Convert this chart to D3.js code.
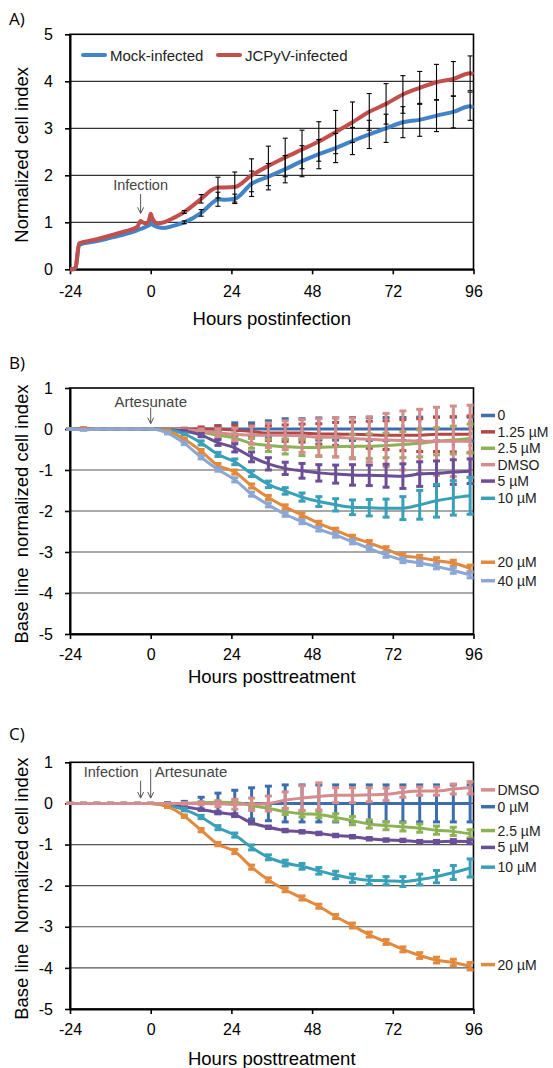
<!DOCTYPE html>
<html>
<head>
<meta charset="utf-8">
<script src="https://cdn.jsdelivr.net/npm/d3@7"></script>
<style>
  body { margin: 0; background: #fff; }
  svg { display: block; font-family: "Liberation Sans", Arial, sans-serif; }
</style>
</head>
<body>
<div id="chart"></div>
<script>
// ---------- data ----------
// Panel A: hours postinfection and normalized cell index
const hoursA  = [-24, -23, -22.3, -21.3, -20, -16, -12, -8, -4, -3, -2.5, -1, -0.3, 0, 0.5, 2, 4, 7, 10, 15, 19, 20, 22, 25, 30, 35, 40, 45, 50, 55, 60, 65, 70, 75, 80, 85, 90, 95, 96];
const mockA   = [0, 0, 0.05, 0.52, 0.55, 0.6, 0.67, 0.74, 0.83, 0.86, 0.87, 0.92, 0.95, 1.02, 0.95, 0.9, 0.88, 0.93, 1.0, 1.2, 1.45, 1.49, 1.48, 1.5, 1.82, 1.97, 2.13, 2.3, 2.45, 2.58, 2.73, 2.87, 3.0, 3.13, 3.18, 3.27, 3.35, 3.47, 3.44];
const jcpyvA  = [0, 0, 0.05, 0.55, 0.58, 0.64, 0.72, 0.8, 0.9, 1.03, 1.0, 0.98, 1.1, 1.18, 1.08, 0.98, 1.0, 1.1, 1.22, 1.5, 1.72, 1.74, 1.74, 1.75, 2.0, 2.2, 2.38, 2.55, 2.72, 2.92, 3.13, 3.35, 3.52, 3.72, 3.86, 3.98, 4.05, 4.17, 4.15];
const errHoursA = [10, 15, 20, 25, 30, 35, 40, 45, 50, 55, 60, 65, 70, 75, 80, 85, 90, 95];
const errMockA  = [0.03, 0.07, 0.15, 0.1, 0.27, 0.28, 0.29, 0.33, 0.31, 0.31, 0.29, 0.3, 0.3, 0.33, 0.35, 0.34, 0.34, 0.3];
const errJcpyvA = [0.03, 0.09, 0.22, 0.32, 0.35, 0.42, 0.41, 0.41, 0.42, 0.46, 0.43, 0.39, 0.43, 0.4, 0.35, 0.38, 0.37, 0.37];

// Panels B and C: hours posttreatment
const hoursBC = [-24, -20, -16, -12, -8, -4, 0, 5, 10, 15, 20, 25, 30, 35, 40, 45, 50, 55, 60, 65, 70, 75, 80, 85, 90, 95];

// Panel B (uninfected, artesunate)
const namesB = ["0", "1.25 µM", "2.5 µM", "DMSO", "5 µM", "10 µM", "20 µM", "40 µM"];
const b0     = [0, 0, 0, 0, 0, 0, 0, 0, 0, 0, 0, 0, 0, 0, 0, 0, 0, 0, 0, 0, 0, 0, 0, 0, 0, 0];
const eb0    = [0, 0, 0, 0, 0, 0, 0, 0, 0, 0.02, 0.08, 0.15, 0.15, 0.2, 0.25, 0.25, 0.27, 0.27, 0.28, 0.28, 0.28, 0.28, 0.29, 0.29, 0.29, 0.29];
const b125   = [0, 0.02, 0, 0, 0, 0, 0, 0, 0, 0, 0, -0.03, -0.06, -0.1, -0.1, -0.1, -0.12, -0.12, -0.13, -0.14, -0.15, -0.15, -0.15, -0.13, -0.13, -0.13];
const eb125  = [0, 0, 0, 0, 0, 0, 0, 0, 0.02, 0.05, 0.08, 0.12, 0.15, 0.18, 0.2, 0.22, 0.25, 0.28, 0.3, 0.33, 0.35, 0.38, 0.4, 0.42, 0.43, 0.45];
const b25    = [0, 0, 0, 0, 0, 0, 0, 0, -0.03, -0.08, -0.15, -0.22, -0.35, -0.4, -0.43, -0.45, -0.45, -0.43, -0.42, -0.42, -0.4, -0.38, -0.35, -0.3, -0.27, -0.23];
const eb25   = [0, 0, 0, 0, 0, 0, 0, 0, 0.02, 0.05, 0.08, 0.1, 0.12, 0.15, 0.18, 0.2, 0.22, 0.25, 0.28, 0.3, 0.3, 0.32, 0.33, 0.33, 0.34, 0.35];
const bDmso  = [0, -0.02, 0, 0, 0, 0, 0, 0, -0.02, -0.05, -0.1, -0.13, -0.15, -0.15, -0.15, -0.17, -0.2, -0.2, -0.23, -0.25, -0.27, -0.28, -0.3, -0.3, -0.3, -0.3];
const ebDmso = [0, 0, 0, 0, 0, 0, 0, 0, 0.02, 0.05, 0.1, 0.15, 0.22, 0.3, 0.35, 0.4, 0.45, 0.48, 0.5, 0.55, 0.65, 0.72, 0.78, 0.83, 0.86, 0.88];
const b5     = [0, 0, 0, 0, 0, 0, 0, -0.01, -0.05, -0.15, -0.33, -0.46, -0.68, -0.85, -0.96, -1.02, -1.07, -1.1, -1.12, -1.13, -1.14, -1.15, -1.1, -1.08, -1.05, -1.03];
const eb5    = [0, 0, 0, 0, 0, 0, 0, 0, 0.02, 0.04, 0.07, 0.1, 0.12, 0.15, 0.15, 0.18, 0.2, 0.22, 0.25, 0.25, 0.28, 0.3, 0.3, 0.3, 0.3, 0.3];
const b10    = [0, 0, 0, 0, 0, 0, 0, -0.02, -0.12, -0.34, -0.62, -0.8, -1.09, -1.35, -1.51, -1.66, -1.77, -1.85, -1.91, -1.92, -1.93, -1.93, -1.85, -1.75, -1.68, -1.63];
const eb10   = [0, 0, 0, 0, 0, 0, 0, 0, 0.02, 0.05, 0.05, 0.07, 0.07, 0.08, 0.08, 0.1, 0.12, 0.15, 0.18, 0.2, 0.22, 0.28, 0.35, 0.4, 0.42, 0.45];
const b20    = [0, 0, 0, 0, 0, 0, 0, -0.05, -0.25, -0.54, -0.89, -1.05, -1.39, -1.67, -1.9, -2.1, -2.3, -2.47, -2.64, -2.78, -2.93, -3.09, -3.14, -3.21, -3.27, -3.4];
const eb20   = [0, 0, 0, 0, 0, 0, 0, 0.02, 0.03, 0.04, 0.05, 0.05, 0.05, 0.05, 0.05, 0.05, 0.05, 0.05, 0.05, 0.06, 0.06, 0.06, 0.06, 0.07, 0.07, 0.08];
const b40    = [0, -0.02, 0, 0, 0, 0, 0, -0.1, -0.35, -0.69, -0.99, -1.24, -1.59, -1.85, -2.08, -2.26, -2.44, -2.59, -2.75, -2.91, -3.07, -3.2, -3.27, -3.35, -3.45, -3.56];
const eb40   = [0, 0, 0, 0, 0, 0, 0, 0.02, 0.03, 0.04, 0.04, 0.05, 0.05, 0.05, 0.05, 0.05, 0.05, 0.05, 0.05, 0.05, 0.06, 0.06, 0.06, 0.06, 0.07, 0.07];

// Panel C (JCPyV-infected, artesunate)
const namesC = ["DMSO", "0 µM", "2.5 µM", "5 µM", "10 µM", "20 µM"];
const cDmso  = [0, 0, 0, 0, 0, 0, 0, 0, 0, 0, -0.01, -0.02, -0.02, 0, 0.08, 0.13, 0.17, 0.2, 0.2, 0.21, 0.22, 0.27, 0.3, 0.3, 0.35, 0.38];
const ecDmso = [0, 0, 0, 0, 0, 0, 0, 0, 0.02, 0.03, 0.07, 0.12, 0.15, 0.18, 0.2, 0.3, 0.33, 0.18, 0.18, 0.17, 0.15, 0.12, 0.1, 0.1, 0.12, 0.15];
const c0     = [0, 0, 0, 0, 0, 0, 0, 0, 0, 0, 0, 0, 0, 0, 0, 0, 0, 0, 0, 0, 0, 0, 0, 0, 0, 0];
const ec0    = [0, 0, 0, 0, 0, 0, 0, 0.02, 0.05, 0.15, 0.25, 0.32, 0.38, 0.42, 0.45, 0.45, 0.45, 0.45, 0.45, 0.45, 0.45, 0.45, 0.45, 0.45, 0.45, 0.45];
const c25    = [0, 0, 0, 0, 0, 0, 0, 0, 0, 0.02, 0.03, 0.02, -0.05, -0.12, -0.2, -0.25, -0.27, -0.34, -0.42, -0.5, -0.54, -0.57, -0.6, -0.65, -0.68, -0.74];
const ec25   = [0, 0, 0, 0, 0, 0, 0, 0, 0, 0.02, 0.03, 0.05, 0.05, 0.06, 0.07, 0.08, 0.08, 0.09, 0.1, 0.1, 0.1, 0.1, 0.1, 0.1, 0.1, 0.1];
const c5     = [0, 0, 0, 0, 0, 0, 0, -0.02, -0.08, -0.15, -0.22, -0.28, -0.47, -0.58, -0.66, -0.69, -0.73, -0.78, -0.81, -0.86, -0.89, -0.9, -0.93, -0.93, -0.92, -0.93];
const ec5    = [0, 0, 0, 0, 0, 0, 0, 0.02, 0.02, 0.02, 0.03, 0.03, 0.03, 0.03, 0.03, 0.03, 0.03, 0.03, 0.03, 0.03, 0.03, 0.03, 0.03, 0.03, 0.04, 0.05];
const c10    = [0, 0, 0, 0, 0, 0, 0, -0.05, -0.15, -0.33, -0.59, -0.77, -1.07, -1.31, -1.45, -1.53, -1.64, -1.74, -1.82, -1.87, -1.88, -1.9, -1.85, -1.78, -1.68, -1.57];
const ec10   = [0, 0, 0, 0, 0, 0, 0, 0.02, 0.03, 0.04, 0.05, 0.05, 0.06, 0.06, 0.07, 0.07, 0.08, 0.09, 0.1, 0.1, 0.1, 0.12, 0.13, 0.15, 0.17, 0.22];
const c20    = [0, 0, 0, 0, 0, 0, 0, -0.08, -0.31, -0.65, -0.99, -1.17, -1.55, -1.86, -2.1, -2.3, -2.5, -2.75, -2.97, -3.19, -3.37, -3.55, -3.7, -3.81, -3.87, -3.96];
const ec20   = [0, 0, 0, 0, 0, 0, 0, 0.02, 0.03, 0.04, 0.04, 0.05, 0.05, 0.05, 0.05, 0.05, 0.05, 0.05, 0.06, 0.06, 0.06, 0.06, 0.07, 0.07, 0.08, 0.09];

const xTicks = [-24, 0, 24, 48, 72, 96];

// ---------- layout ----------
const W = 553, H = 1068;
const plotLeft = 70, plotRight = 473.5;

const svg = d3.select("#chart").append("svg")
  .attr("width", W).attr("height", H);

const x = d3.scaleLinear().domain([-24, 96]).range([plotLeft, plotRight]);
const plainNum = d => String(d); // hyphen minus like the original, not U+2212

function frame(o) {
  const y = d3.scaleLinear().domain(o.domain).range([o.bottom, o.top]);
  const g = svg.append("g");

  // gridlines
  g.append("g").selectAll("line")
    .data(o.yTicks.filter(t => t !== o.domain[0] && t !== o.domain[1]))
    .join("line")
      .attr("x1", plotLeft).attr("x2", plotRight)
      .attr("y1", d => y(d)).attr("y2", d => y(d))
      .attr("stroke", o.gridColor).attr("stroke-width", o.gridWidth);

  // box
  g.append("rect")
    .attr("x", plotLeft).attr("y", o.top)
    .attr("width", plotRight - plotLeft).attr("height", o.bottom - o.top)
    .attr("fill", "none").attr("stroke", "#000").attr("stroke-width", 1.6);

  const xa = g.append("g")
    .attr("transform", `translate(0,${o.bottom})`)
    .call(d3.axisBottom(x).tickValues(xTicks).tickSize(5).tickSizeOuter(0).tickPadding(o.xPad).tickFormat(plainNum));
  const ya = g.append("g")
    .attr("transform", `translate(${plotLeft},0)`)
    .call(d3.axisLeft(y).tickValues(o.yTicks).tickSize(5).tickSizeOuter(0).tickPadding(12).tickFormat(plainNum));
  [xa, ya].forEach(a => {
    a.select(".domain").attr("stroke", "#000").attr("stroke-width", 2);
    a.selectAll(".tick line").attr("stroke", "#000").attr("stroke-width", 1.6);
    a.selectAll(".tick text").attr("fill", "#000")
      .style("font-family", '"Liberation Sans", Arial, sans-serif').style("font-size", "16px");
  });

  // axis titles
  g.append("text")
    .attr("x", (plotLeft + plotRight) / 2).attr("y", o.xTitleY)
    .attr("text-anchor", "middle").attr("dominant-baseline", "central")
    .style("font-size", "18.5px").text(o.xTitle);
  g.append("text")
    .attr("transform", `translate(21,${(o.top + o.bottom) / 2 + 3}) rotate(-90)`)
    .attr("text-anchor", "middle").attr("dominant-baseline", "central")
    .style("font-size", "18.5px").style("white-space", "pre").text(o.yTitle);

  // panel label
  g.append("text")
    .attr("x", 9).attr("y", o.labelY)
    .attr("dominant-baseline", "central")
    .style("font-family", '"Open Sans", sans-serif').style("font-size", "17px")
    .text(o.label);

  return { g, y };
}

function arrow(g, px, y1, y2) {
  g.append("path")
    .attr("d", `M${px},${y1}V${y2}M${px - 3},${y2 - 6}L${px},${y2}L${px + 3},${y2 - 6}`)
    .attr("fill", "none").attr("stroke", "#555").attr("stroke-width", 1);
}

// ---------- Panel A ----------
{
  const { g, y } = frame({
    top: 34.3, bottom: 269.3, domain: [0, 5], yTicks: [0, 1, 2, 3, 4, 5],
    gridColor: "#000", gridWidth: 1, xPad: 11, xTitleY: 318,
    xTitle: "Hours postinfection", yTitle: "Normalized cell index",
    label: "A)", labelY: 18
  });

  const line = d3.line().x(d => x(d[0])).y(d => y(d[1])).curve(d3.curveMonotoneX);
  const seriesA = [
    { name: "Mock-infected", vals: mockA, err: errMockA, color: "#4384c9" },
    { name: "JCPyV-infected", vals: jcpyvA, err: errJcpyvA, color: "#c24f4c" }
  ];

  seriesA.forEach(s => {
    g.append("path")
      .datum(hoursA.map((h, i) => [h, s.vals[i]]))
      .attr("d", line)
      .attr("fill", "none").attr("stroke", s.color)
      .attr("stroke-width", 4).attr("stroke-linejoin", "round");
  });

  // error bars (black)
  seriesA.forEach(s => {
    const pts = errHoursA.map((h, i) => {
      const v = s.vals[hoursA.indexOf(h)];
      return { h, lo: v - s.err[i], hi: v + s.err[i] };
    });
    const eg = g.append("g").attr("stroke", "#000").attr("stroke-width", 1.1);
    eg.selectAll(".bar").data(pts).join("line")
      .attr("x1", d => x(d.h)).attr("x2", d => x(d.h))
      .attr("y1", d => y(d.lo)).attr("y2", d => y(d.hi));
    eg.selectAll(".capHi").data(pts).join("line")
      .attr("x1", d => x(d.h) - 2.5).attr("x2", d => x(d.h) + 2.5)
      .attr("y1", d => y(d.hi)).attr("y2", d => y(d.hi));
    eg.selectAll(".capLo").data(pts).join("line")
      .attr("x1", d => x(d.h) - 2.5).attr("x2", d => x(d.h) + 2.5)
      .attr("y1", d => y(d.lo)).attr("y2", d => y(d.lo));
  });

  // legend
  const legX = [83, 218];
  seriesA.forEach((s, i) => {
    g.append("line")
      .attr("x1", legX[i]).attr("x2", legX[i] + 22)
      .attr("y1", 55).attr("y2", 55)
      .attr("stroke", s.color).attr("stroke-width", 4).attr("stroke-linecap", "round");
    g.append("text")
      .attr("x", legX[i] + 27).attr("y", 55)
      .attr("dominant-baseline", "central")
      .style("font-size", "15px").attr("fill", "#222").text(s.name);
  });

  // annotation
  g.append("text")
    .attr("x", x(-3)).attr("y", y(1.79))
    .attr("text-anchor", "middle").attr("dominant-baseline", "central")
    .style("font-size", "14.5px").attr("fill", "#444").text("Infection");
  arrow(g, x(-3), y(1.6), y(1.19));
}

// ---------- Panels B and C ----------
function treatmentPanel(o, series) {
  const { g, y } = frame(o);
  const line = d3.line().x(d => x(d[0])).y(d => y(d[1])).curve(d3.curveMonotoneX);

  series.forEach(s => {
    const pts = hoursBC.map((h, i) => ({ h, v: s.vals[i], e: s.err[i] }));
    const sg = g.append("g");
    sg.append("path")
      .datum(pts.map(d => [d.h, d.v]))
      .attr("d", line)
      .attr("fill", "none").attr("stroke", s.color).attr("stroke-width", 3);
    const eg = sg.append("g").attr("stroke", s.color).attr("stroke-width", 3);
    eg.selectAll(".bar").data(pts.filter(d => d.e > 0)).join("line")
      .attr("x1", d => x(d.h)).attr("x2", d => x(d.h))
      .attr("y1", d => y(d.v - d.e)).attr("y2", d => y(d.v + d.e))
      .attr("stroke-dasharray", s.dashed ? "2.5,3.5" : null);
    eg.selectAll(".capHi").data(pts).join("line")
      .attr("x1", d => x(d.h) - 3.5).attr("x2", d => x(d.h) + 3.5)
      .attr("y1", d => y(d.v + d.e)).attr("y2", d => y(d.v + d.e));
    eg.selectAll(".capLo").data(pts).join("line")
      .attr("x1", d => x(d.h) - 3.5).attr("x2", d => x(d.h) + 3.5)
      .attr("y1", d => y(d.v - d.e)).attr("y2", d => y(d.v - d.e));
  });

  // legend at right edge
  o.legendOrder.forEach((name, i) => {
    const s = series.find(d => d.name === name);
    const ly = y(o.legendAt[i]);
    g.append("line")
      .attr("x1", 481).attr("x2", 495).attr("y1", ly).attr("y2", ly)
      .attr("stroke", s.color).attr("stroke-width", 3.5);
    g.append("text")
      .attr("x", 497.5).attr("y", ly)
      .attr("dominant-baseline", "central")
      .style("font-size", "14px")
      .attr("fill", "#222").text(name);
  });
  return { g, y };
}

const colors = {
  c0: "#3c6eae", c125: "#b24744", c25: "#8db155", dmso: "#d48c8d",
  c5: "#6b4f96", c10: "#39a0b7", c20: "#e2893d", c40: "#8ba7d5"
};

{
  const series = [
    { name: namesB[0], vals: b0, err: eb0, color: colors.c0, dashed: true },
    { name: namesB[1], vals: b125, err: eb125, color: colors.c125, dashed: true },
    { name: namesB[2], vals: b25, err: eb25, color: colors.c25, dashed: true },
    { name: namesB[3], vals: bDmso, err: ebDmso, color: colors.dmso },
    { name: namesB[4], vals: b5, err: eb5, color: colors.c5 },
    { name: namesB[5], vals: b10, err: eb10, color: colors.c10 },
    { name: namesB[6], vals: b20, err: eb20, color: colors.c20 },
    { name: namesB[7], vals: b40, err: eb40, color: colors.c40 }
  ];
  const { g, y } = treatmentPanel({
    top: 388, bottom: 634, domain: [-5, 1], yTicks: [-5, -4, -3, -2, -1, 0, 1],
    gridColor: "#555", gridWidth: 1.2, xPad: 10, xTitleY: 676,
    xTitle: "Hours posttreatment", yTitle: "Base line  normalized cell index",
    label: "B)", labelY: 362,
    legendOrder: namesB, legendAt: [0.33, -0.07, -0.47, -0.87, -1.27, -1.69, -3.25, -3.70]
  }, series);

  g.append("text")
    .attr("x", x(0)).attr("y", y(0.67))
    .attr("text-anchor", "middle").attr("dominant-baseline", "central")
    .style("font-size", "15px").attr("fill", "#444").text("Artesunate");
  arrow(g, x(0), y(0.52), y(0.13));
}

{
  const series = [
    { name: namesC[1], vals: c0, err: ec0, color: colors.c0 },
    { name: namesC[2], vals: c25, err: ec25, color: colors.c25 },
    { name: namesC[3], vals: c5, err: ec5, color: colors.c5 },
    { name: namesC[4], vals: c10, err: ec10, color: colors.c10 },
    { name: namesC[5], vals: c20, err: ec20, color: colors.c20 },
    { name: namesC[0], vals: cDmso, err: ecDmso, color: colors.dmso }
  ];
  const { g, y } = treatmentPanel({
    top: 762.3, bottom: 1009, domain: [-5, 1], yTicks: [-5, -4, -3, -2, -1, 0, 1],
    gridColor: "#555", gridWidth: 1.2, xPad: 10, xTitleY: 1058,
    xTitle: "Hours posttreatment", yTitle: "Base line  Normalized cell index",
    label: "C)", labelY: 733,
    legendOrder: namesC, legendAt: [0.33, -0.08, -0.66, -1.07, -1.55, -3.92]
  }, series);

  g.append("text")
    .attr("x", x(-3) - 2).attr("y", y(0.77))
    .attr("text-anchor", "end").attr("dominant-baseline", "central")
    .style("font-size", "14.5px").attr("fill", "#444").text("Infection");
  arrow(g, x(-3), y(0.55), y(0.13));
  g.append("text")
    .attr("x", x(0) + 4).attr("y", y(0.77))
    .attr("dominant-baseline", "central")
    .style("font-size", "15px").attr("fill", "#444").text("Artesunate");
  arrow(g, x(0), y(0.84), y(0.13));
}
</script>
</body>
</html>
